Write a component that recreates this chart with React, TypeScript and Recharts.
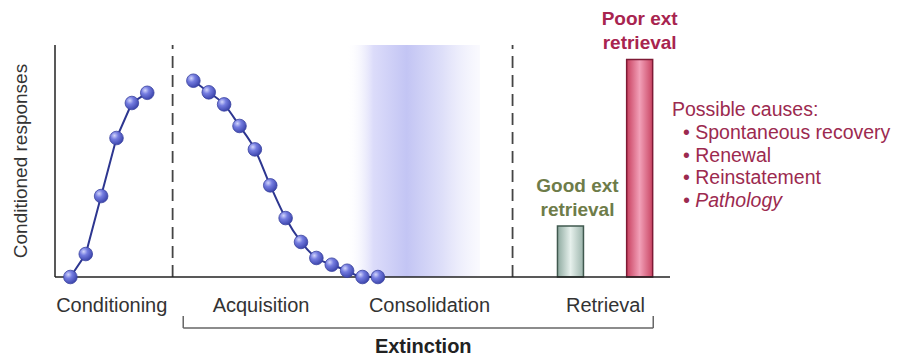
import React from "react";
import {
  ComposedChart,
  Line,
  Bar,
  Cell,
  XAxis,
  YAxis,
  ReferenceLine,
  ReferenceArea,
  LabelList,
} from "recharts";

// trial positions along the time axis, responses in % of max
const conditioningTrials = [0, 1, 2, 3, 4, 5];
const conditioningResponses = [0, 9.9, 34.9, 59.9, 75.0, 79.4];
const extinctionTrials = [8, 9, 10, 11, 12, 13, 14, 15, 16, 17, 18, 19, 20];
const extinctionResponses = [84.6, 79.6, 74.4, 65.1, 55.0, 39.5, 25.4, 15.1, 8.2, 5.3, 2.7, 0, 0];

const retrievalPositions = [32.5, 37];
const retrievalResponses = [22.0, 93.8];
const retrievalLabels = [
  ["Good ext", "retrieval"],
  ["Poor ext", "retrieval"],
];

const phaseTicks = [2.69, 12.4, 23.36, 34.8];
const phaseLabels = ["Conditioning", "Acquisition", "Consolidation", "Retrieval"];
const phaseBoundaries = [6.65, 28.76];
const consolidationWindow = [17.97, 26.64];
const extinctionSpan = [7.34, 37.91];

const possibleCauses = ["Spontaneous recovery", "Renewal", "Reinstatement", "Pathology"];

const conditioningData = conditioningTrials.map((x, i) => ({ x, cr: conditioningResponses[i] }));
const extinctionData = extinctionTrials.map((x, i) => ({ x, cr: extinctionResponses[i] }));
const retrievalData = retrievalPositions.map((x, i) => ({ x, cr: retrievalResponses[i] }));

const FONT = "'Liberation Sans', Arial, Helvetica, sans-serif";
const labelColors = ["#6e7c49", "#a8244f"];
const barFills = ["url(#goodBar)", "url(#poorBar)"];
const barStrokes = ["#40594f", "#7e1a35"];

const Ball = (props: any) => {
  const { cx, cy, index } = props;
  if (cx == null || cy == null) return null;
  return (
    <circle
      key={"b" + index}
      cx={cx}
      cy={cy}
      r={6.8}
      fill="url(#ball)"
      stroke="#3a42a0"
      strokeWidth={0.8}
    />
  );
};

const RetrievalLabel = (props: any) => {
  const { x, y, width, index } = props;
  const cx = x + width / 2 + (index === 0 ? 7 : 0);
  const lines = retrievalLabels[index];
  return (
    <text
      textAnchor="middle"
      fontWeight="bold"
      fontSize={19}
      fill={labelColors[index]}
      style={{ fontFamily: FONT }}
    >
      <tspan x={cx} y={y - 34}>
        {lines[0]}
      </tspan>
      <tspan x={cx} y={y - 10}>
        {lines[1]}
      </tspan>
    </text>
  );
};

export default function App() {
  return (
    <div style={{ position: "absolute", left: 0, top: 0 }}>
      <ComposedChart
        width={900}
        height={362}
        data={retrievalData}
        margin={{ top: 45, right: 230, bottom: 0, left: 0 }}
        style={{ fontFamily: FONT }}
      >
        <defs>
          <radialGradient id="ball" cx="35%" cy="32%" r="70%">
            <stop offset="0%" stopColor="#d2d5fb" />
            <stop offset="40%" stopColor="#747ce0" />
            <stop offset="100%" stopColor="#3c45ac" />
          </radialGradient>
          <linearGradient id="band" x1="0" y1="0" x2="1" y2="0">
            <stop offset="0%" stopColor="#ffffff" stopOpacity={0} />
            <stop offset="20%" stopColor="#dcdcfa" />
            <stop offset="45%" stopColor="#c3c5f4" />
            <stop offset="72%" stopColor="#dedff9" />
            <stop offset="100%" stopColor="#eeeefc" stopOpacity={0.3} />
          </linearGradient>
          <linearGradient id="goodBar" x1="0" y1="0" x2="1" y2="0">
            <stop offset="0%" stopColor="#8eaaa0" />
            <stop offset="50%" stopColor="#e6f0ec" />
            <stop offset="100%" stopColor="#9cb5ac" />
          </linearGradient>
          <linearGradient id="poorBar" x1="0" y1="0" x2="1" y2="0">
            <stop offset="0%" stopColor="#c8405f" />
            <stop offset="50%" stopColor="#f2a0b8" />
            <stop offset="100%" stopColor="#c94563" />
          </linearGradient>
        </defs>

        <XAxis
          dataKey="x"
          type="number"
          domain={[-1, 39]}
          ticks={phaseTicks}
          interval={0}
          tickFormatter={(v: number, i: number) => phaseLabels[i]}
          tickLine={false}
          tickSize={0}
          tickMargin={21}
          height={85}
          axisLine={{ stroke: "#222", strokeWidth: 1.5 }}
          tick={{ fill: "#333", fontSize: 20 }}
        />
        <XAxis
          xAxisId="retrieval"
          dataKey="x"
          type="number"
          domain={[-1, 39]}
          hide
        />
        <YAxis
          type="number"
          domain={[0, 100]}
          ticks={[0, 100]}
          width={55}
          tick={false}
          tickSize={10}
          tickLine={{ stroke: "#222", strokeWidth: 1.5 }}
          axisLine={{ stroke: "#222", strokeWidth: 1.5 }}
          label={{
            value: "Conditioned responses",
            angle: -90,
            position: "insideLeft",
            offset: 20,
            fill: "#333",
            fontSize: 19,
            style: { textAnchor: "middle" },
          }}
        />

        <ReferenceArea
          x1={consolidationWindow[0]}
          x2={consolidationWindow[1]}
          y1={0}
          y2={100}
          fill="url(#band)"
          fillOpacity={1}
          stroke="none"
        />
        {phaseBoundaries.map((b) => (
          <ReferenceLine
            key={b}
            x={b}
            stroke="#444"
            strokeWidth={1.8}
            strokeDasharray="12 7"
          />
        ))}

        <Line
          data={conditioningData}
          dataKey="cr"
          type="linear"
          stroke="#2d3690"
          strokeWidth={2}
          dot={Ball}
          isAnimationActive={false}
        />
        <Line
          data={extinctionData}
          dataKey="cr"
          type="monotone"
          stroke="#2d3690"
          strokeWidth={2}
          dot={Ball}
          isAnimationActive={false}
        />

        <Bar xAxisId="retrieval" dataKey="cr" barSize={26} isAnimationActive={false}>
          {retrievalData.map((d, i) => (
            <Cell key={i} fill={barFills[i]} stroke={barStrokes[i]} strokeWidth={1.5} />
          ))}
          <LabelList dataKey="cr" content={RetrievalLabel} />
        </Bar>

        {/* Extinction bracket below the axis */}
        <ReferenceLine
          ifOverflow="visible"
          segment={[
            { x: extinctionSpan[0], y: -16.8 },
            { x: extinctionSpan[0], y: -22 },
          ]}
          stroke="#666"
          strokeWidth={1.5}
        />
        <ReferenceLine
          ifOverflow="visible"
          segment={[
            { x: extinctionSpan[0], y: -22 },
            { x: extinctionSpan[1], y: -22 },
          ]}
          stroke="#666"
          strokeWidth={1.5}
          label={{
            value: "Extinction",
            position: "bottom",
            offset: 11,
            dx: 5,
            fill: "#222",
            fontSize: 20,
            fontWeight: "bold",
          }}
        />
        <ReferenceLine
          ifOverflow="visible"
          segment={[
            { x: extinctionSpan[1], y: -22 },
            { x: extinctionSpan[1], y: -16.8 },
          ]}
          stroke="#666"
          strokeWidth={1.5}
        />

        <text fill="#9c2a4f" fontSize={19.5} style={{ fontFamily: FONT }}>
          <tspan x={672} y={116}>
            Possible causes:
          </tspan>
          {possibleCauses.map((c, i) => (
            <tspan
              key={c}
              x={683}
              y={139 + i * 22.5}
              fontStyle={i === possibleCauses.length - 1 ? "italic" : "normal"}
            >
              {"\u2022 " + c}
            </tspan>
          ))}
        </text>
      </ComposedChart>
    </div>
  );
}
